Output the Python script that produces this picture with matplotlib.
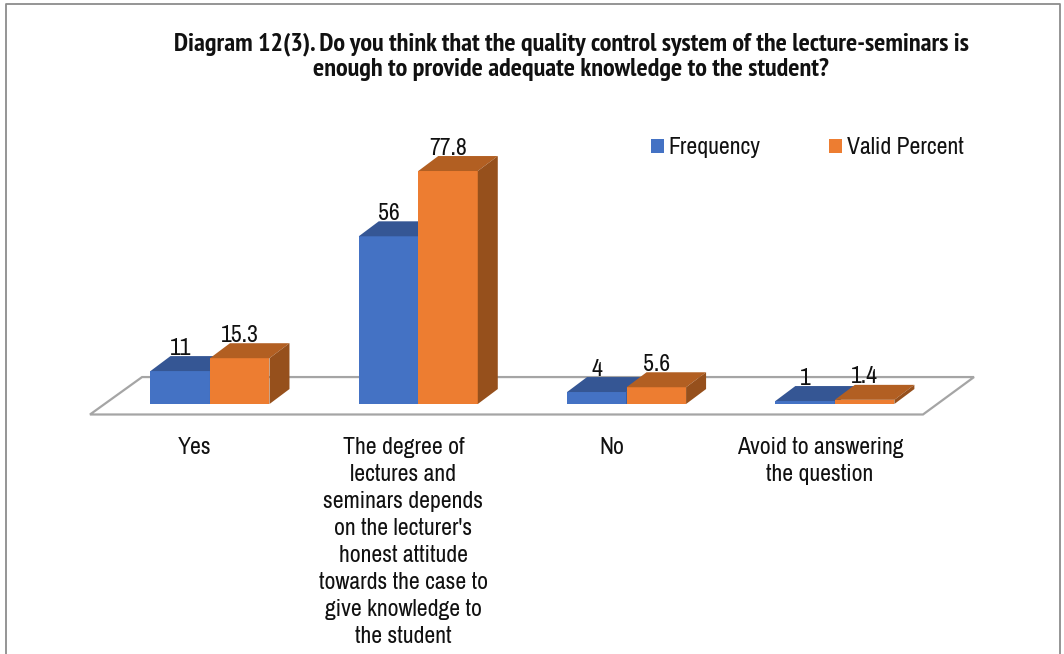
import matplotlib
matplotlib.use("Agg")
from matplotlib import pyplot as plt
from matplotlib.patches import Polygon, Patch

plt.rcParams['font.family'] = ['Archivo Narrow', 'Liberation Sans', 'DejaVu Sans']

title = ("Diagram 12(3). Do you think that the quality control system of the lecture-seminars is\n"
         "enough to provide adequate knowledge to the student?")
categories = ["Yes",
              "The degree of\nlectures and\nseminars depends\non the lecturer's\nhonest attitude\ntowards the case to\ngive knowledge to\nthe student",
              "No",
              "Avoid to answering\nthe question"]
frequency = [11, 56, 4, 1]
valid_percent = [15.3, 77.8, 5.6, 1.4]
freq_labels = ["11", "56", "4", "1"]
valid_labels = ["15.3", "77.8", "5.6", "1.4"]

BLUE = "#4472C4"
BLUE_TOP = "#355694"
BLUE_SIDE = "#2A4476"
ORANGE = "#ED7D31"
ORANGE_TOP = "#B25F22"
ORANGE_SIDE = "#96501C"
GREY = "#A5A5A5"
TEXT = "#111111"

# depth of the fake 3d bars, in data units
w = 0.2857
dx = 0.096
dy = 5.0

fig = plt.figure(figsize=(10.64, 6.54), dpi=100)
ax = fig.add_axes([0, 0, 1, 1])
ax.set_xlim(-1.008, 4.100)
ax.set_ylim(-83.47, 134.9)
ax.axis("off")

# floor of the chart
floor = Polygon([(-0.576, -3.5), (-0.326, 9), (3.668, 9), (3.423, -3.5)],
                closed=True, fill=False, edgecolor=GREY, linewidth=1.6, zorder=1)
ax.add_patch(floor)


def bar3d(x, h, front, top, side):
    ax.bar(x, h, width=w, align="edge", color=front, linewidth=0, zorder=3)
    ax.add_patch(Polygon([(x, h), (x + dx, h + dy), (x + w + dx, h + dy), (x + w, h)],
                         closed=True, facecolor=top, linewidth=0, zorder=3))
    ax.add_patch(Polygon([(x + w, 0), (x + w + dx, dy), (x + w + dx, h + dy), (x + w, h)],
                         closed=True, facecolor=side, linewidth=0, zorder=3))


for i in range(len(categories)):
    bar3d(i - w, frequency[i], BLUE, BLUE_TOP, BLUE_SIDE)
    bar3d(i, valid_percent[i], ORANGE, ORANGE_TOP, ORANGE_SIDE)
    ax.text(i - w / 2, frequency[i] + dy + 0.5, freq_labels[i], ha="center", va="baseline",
            fontsize=17.1, color=TEXT, zorder=5)
    ax.text(i + w / 2, valid_percent[i] + dy + 0.5, valid_labels[i], ha="center", va="baseline",
            fontsize=17.1, color=TEXT, zorder=5)
    ax.text(i - 0.072, -11, categories[i], ha="center", va="top", fontsize=17.1,
            color=TEXT, linespacing=1.35)

ax.text(0.537, 0.913, title, transform=ax.transAxes, ha="center", va="center",
        fontsize=18.9, fontweight="bold", color=TEXT, linespacing=1.08,
        family=['PT Sans Narrow', 'Liberation Sans', 'DejaVu Sans'])

handles = [Patch(facecolor=BLUE, label="Frequency"), Patch(facecolor=ORANGE, label="Valid Percent")]
ax.legend(handles=handles, ncol=2, frameon=False, fontsize=17.1, loc="center left",
          bbox_to_anchor=(0.5915, 0.774), handlelength=0.55, handleheight=0.55,
          handletextpad=0.2, columnspacing=2.9, labelcolor=TEXT)

# chart frame, runs off the bottom of the picture
ax.plot([6 / 1064, 6 / 1064, 1060 / 1064, 1060 / 1064], [-0.01, 1 - 4 / 654, 1 - 4 / 654, -0.01],
        transform=ax.transAxes, color="#8C8C8C", linewidth=1.3, clip_on=False)

plt.savefig("out.png", dpi=100)
